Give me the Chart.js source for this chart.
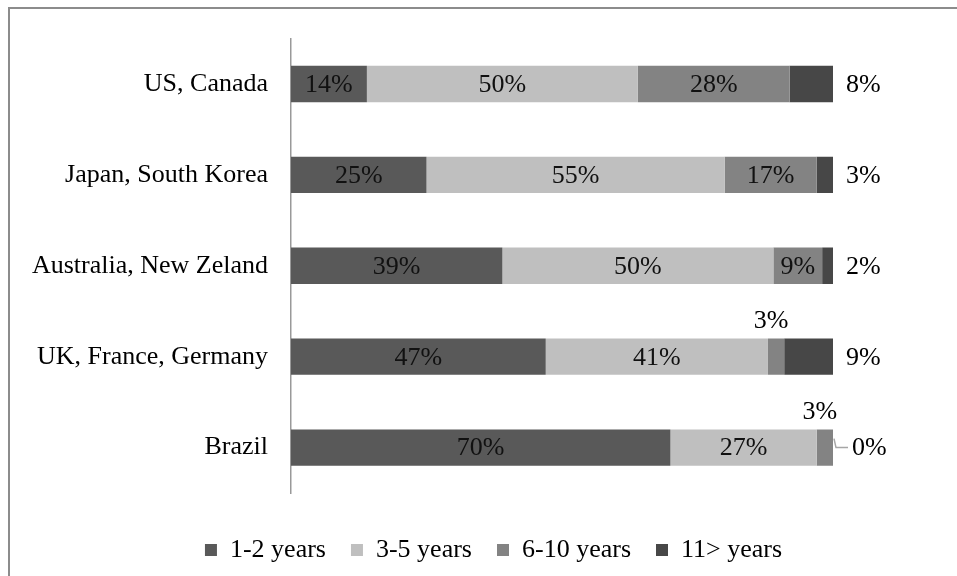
<!DOCTYPE html>
<html>
<head>
<meta charset="utf-8">
<script src="https://cdn.jsdelivr.net/npm/chart.js@4"></script>
<style>
  html, body { margin: 0; padding: 0; background: #fff; }
  #wrap { width: 957px; height: 576px; }
</style>
</head>
<body>
<div id="wrap"><canvas id="myChart"></canvas></div>
<script>
const regions = ['US, Canada', 'Japan, South Korea', 'Australia, New Zeland', 'UK, France, Germany', 'Brazil'];
const seriesNames = ['1-2 years', '3-5 years', '6-10 years', '11> years'];
const years1to2 = [14, 25, 39, 47, 70];
const years3to5 = [50, 55, 50, 41, 27];
const years6to10 = [28, 17, 9, 3, 3];
const years11plus = [8, 3, 2, 9, 0];
const colors = ['#595959', '#bfbfbf', '#838383', '#474747'];

const FONT = "'Liberation Serif', 'Times New Roman', serif";

// white background + the frame lines at top / left
const frame = {
  id: 'frame',
  beforeDraw(chart) {
    const c = chart.ctx;
    c.save();
    c.fillStyle = '#fff';
    c.fillRect(0, 0, chart.width, chart.height);
    c.strokeStyle = '#8c8c8c';
    c.lineWidth = 2;
    c.beginPath();
    c.moveTo(9, chart.height);
    c.lineTo(9, 8);
    c.lineTo(chart.width, 8);
    c.stroke();
    c.restore();
  }
};

// percent labels
const pctLabels = {
  id: 'pctLabels',
  afterDatasetsDraw(chart) {
    const c = chart.ctx;
    const last = chart.data.datasets.length - 1;
    c.save();
    c.font = '26px ' + FONT;
    c.textBaseline = 'middle';
    chart.data.datasets.forEach((ds, i) => {
      chart.getDatasetMeta(i).data.forEach((el, j) => {
        const v = ds.data[j];
        const txt = v + '%';
        if (i === last) {
          c.fillStyle = '#000';
          c.textAlign = 'left';
          if (v === 0) {
            c.strokeStyle = '#a6a6a6';
            c.lineWidth = 1.5;
            c.beginPath();
            c.moveTo(el.x + 1, el.y - 9);
            c.lineTo(el.x + 3, el.y);
            c.lineTo(el.x + 15, el.y);
            c.stroke();
            c.fillText(txt, el.x + 19, el.y + 1);
          } else {
            c.fillText(txt, el.x + 13, el.y + 1);
          }
        } else if (v < 5) {
          c.fillStyle = '#000';
          c.textAlign = 'center';
          c.fillText(txt, (el.x + el.base) / 2 - 5, el.y - el.height / 2 - 17);
        } else {
          c.fillStyle = '#111';
          c.textAlign = 'center';
          c.fillText(txt, (el.x + el.base) / 2, el.y + 1);
        }
      });
    });
    c.restore();
  }
};

const allSeries = [years1to2, years3to5, years6to10, years11plus];

new Chart(document.getElementById('myChart'), {
  type: 'bar',
  data: {
    labels: regions,
    datasets: allSeries.map((d, i) => ({
      label: seriesNames[i],
      data: d,
      backgroundColor: colors[i],
      borderWidth: 0,
      categoryPercentage: 0.8,
      barPercentage: 0.5
    }))
  },
  options: {
    indexAxis: 'y',
    responsive: true,
    maintainAspectRatio: false,
    animation: false,
    layout: { padding: { top: 38, right: 0, bottom: 3, left: 30 } },
    scales: {
      x: {
        stacked: true, min: 0, max: 100,
        grid: { display: false, drawTicks: false },
        border: { display: false },
        ticks: { display: false },
        afterFit(scale) { scale.height = 19; }
      },
      y: {
        stacked: true,
        grid: { display: false, drawTicks: false },
        border: { display: true, color: '#999', width: 1.5 },
        ticks: { color: '#000', padding: 23, font: { family: FONT, size: 26 } },
        afterFit(scale) { scale.width = 261; }
      },
      // empty space on the right for the outside labels
      yRight: {
        axis: 'y',
        position: 'right',
        grid: { display: false, drawTicks: false },
        border: { display: false },
        ticks: { display: false },
        afterFit(scale) { scale.width = 124; }
      }
    },
    plugins: {
      legend: {
        position: 'bottom',
        labels: {
          color: '#000',
          boxWidth: 12,
          boxHeight: 12,
          padding: 25,
          font: { family: FONT, size: 26 }
        }
      },
      tooltip: { enabled: false }
    }
  },
  plugins: [frame, pctLabels]
});
</script>
</body>
</html>
